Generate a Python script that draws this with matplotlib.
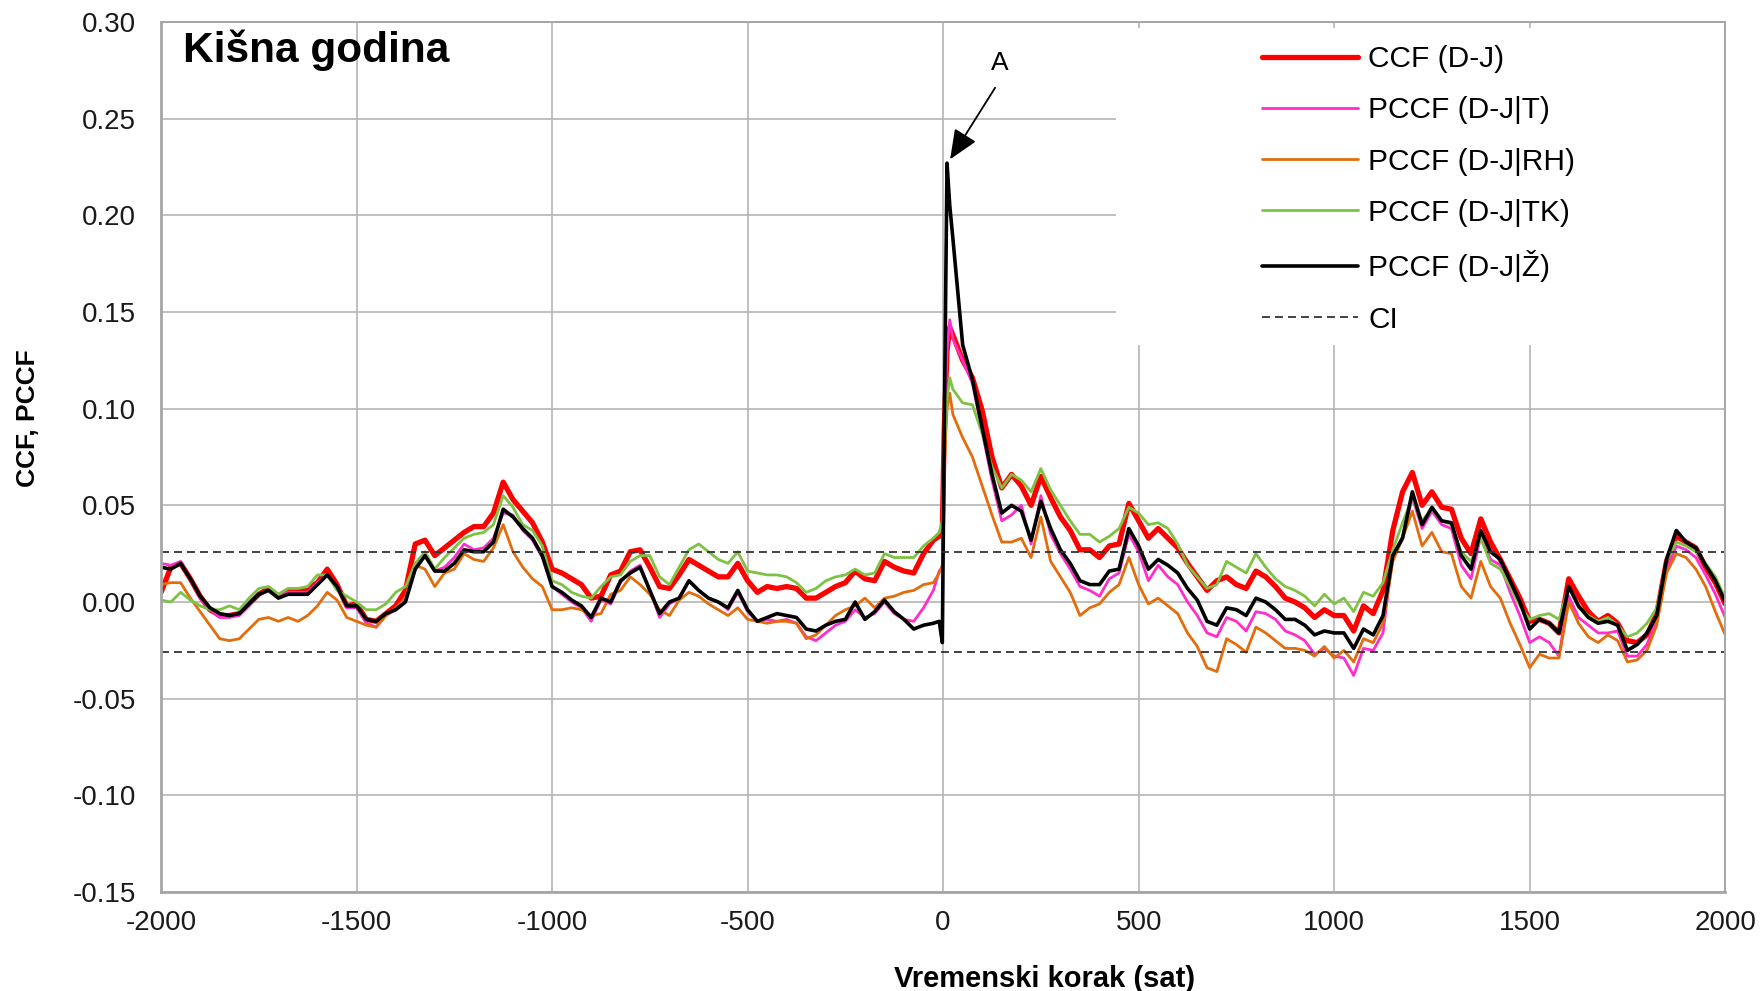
import matplotlib
matplotlib.use("Agg")
import numpy as np
import matplotlib.pyplot as plt
from matplotlib.patches import Rectangle
from matplotlib.ticker import FormatStrFormatter

plt.rcParams['font.family'] = ['Liberation Sans', 'DejaVu Sans']
plt.rcParams['axes.unicode_minus'] = False

# lag axis (hours): 25 h steps, a few extra points around the jump at 0
lags = list(range(-2000, 0, 25)) + [-10, -2, 3, 10, 17] + list(range(25, 2001, 25))

# CCF (D-J)
ccf_dj = [
    0.005, 0.018, 0.020, 0.012, 0.003, -0.004, -0.007, -0.007, -0.006, -0.001,
    0.004, 0.007, 0.003, 0.006, 0.006, 0.007, 0.010, 0.017, 0.009, -0.002,
    -0.001, -0.009, -0.010, -0.006, -0.002, 0.006, 0.030, 0.032, 0.024, 0.028,
    0.032, 0.036, 0.039, 0.039, 0.046, 0.062, 0.053, 0.047, 0.041, 0.031,
    0.017, 0.015, 0.012, 0.009, 0.002, 0.003, 0.014, 0.016, 0.026, 0.027,
    0.018, 0.008, 0.007, 0.014, 0.022, 0.019, 0.016, 0.013, 0.013, 0.020,
    0.011, 0.005, 0.008, 0.007, 0.008, 0.007, 0.002, 0.002, 0.005, 0.008,
    0.010, 0.016, 0.012, 0.011, 0.021, 0.018, 0.016, 0.015, 0.025, 0.032,
    0.034, 0.038, 0.090, 0.130, 0.142,
    0.138, 0.125, 0.116, 0.099, 0.075, 0.059, 0.066, 0.060, 0.050, 0.065,
    0.054, 0.044, 0.037, 0.027, 0.027, 0.023, 0.029, 0.030, 0.051, 0.042,
    0.033, 0.038, 0.033, 0.028, 0.020, 0.013, 0.006, 0.011, 0.013, 0.009,
    0.007, 0.016, 0.013, 0.008, 0.002, 0.000, -0.003, -0.008, -0.004, -0.007,
    -0.007, -0.015, -0.002, -0.006, 0.006, 0.037, 0.057, 0.067, 0.050, 0.057,
    0.049, 0.048, 0.033, 0.025, 0.043, 0.031, 0.022, 0.012, 0.002, -0.010,
    -0.009, -0.011, -0.016, 0.012, 0.003, -0.005, -0.010, -0.007, -0.011, -0.020,
    -0.021, -0.017, -0.006, 0.021, 0.034, 0.031, 0.028, 0.018, 0.010, -0.001,
]

# PCCF (D-J|T)
pccf_t = [
    0.020, 0.019, 0.021, 0.012, 0.002, -0.004, -0.008, -0.008, -0.007, -0.002,
    0.004, 0.006, 0.003, 0.005, 0.005, 0.005, 0.010, 0.014, 0.008, -0.003,
    -0.003, -0.011, -0.013, -0.007, -0.004, 0.001, 0.018, 0.024, 0.016, 0.018,
    0.023, 0.030, 0.027, 0.028, 0.033, 0.046, 0.045, 0.037, 0.032, 0.023,
    0.008, 0.004, 0.000, -0.003, -0.010, 0.001, -0.001, 0.010, 0.016, 0.019,
    0.006, -0.008, -0.001, 0.002, 0.011, 0.006, 0.002, 0.000, -0.004, 0.005,
    -0.005, -0.010, -0.009, -0.010, -0.009, -0.011, -0.018, -0.020, -0.016, -0.012,
    -0.010, -0.004, -0.008, -0.006, 0.000, -0.006, -0.009, -0.010, -0.003, 0.006,
    0.016, 0.018, 0.080, 0.130, 0.146,
    0.136, 0.125, 0.113, 0.088, 0.063, 0.042, 0.045, 0.050, 0.030, 0.055,
    0.035, 0.025, 0.017, 0.008, 0.006, 0.003, 0.012, 0.015, 0.035, 0.026,
    0.011, 0.019, 0.013, 0.009, 0.000, -0.007, -0.016, -0.018, -0.008, -0.010,
    -0.015, -0.005, -0.006, -0.009, -0.015, -0.017, -0.020, -0.027, -0.024, -0.028,
    -0.029, -0.038, -0.024, -0.025, -0.016, 0.024, 0.034, 0.054, 0.038, 0.047,
    0.040, 0.038, 0.019, 0.012, 0.034, 0.022, 0.019, 0.005, -0.007, -0.021,
    -0.018, -0.021, -0.028, 0.003, -0.008, -0.012, -0.016, -0.016, -0.015, -0.028,
    -0.028, -0.022, -0.010, 0.016, 0.029, 0.027, 0.023, 0.014, 0.004, -0.008,
]

# PCCF (D-J|RH)
pccf_rh = [
    0.009, 0.010, 0.010, 0.002, -0.005, -0.012, -0.019, -0.020, -0.019, -0.014,
    -0.009, -0.008, -0.010, -0.008, -0.010, -0.007, -0.002, 0.005, 0.001, -0.008,
    -0.010, -0.012, -0.013, -0.007, -0.003, 0.002, 0.019, 0.017, 0.008, 0.015,
    0.017, 0.025, 0.022, 0.021, 0.028, 0.040, 0.026, 0.018, 0.012, 0.008,
    -0.004, -0.004, -0.003, -0.004, -0.007, -0.006, 0.004, 0.006, 0.013, 0.009,
    0.004, -0.004, -0.007, 0.001, 0.005, 0.003, -0.001, -0.004, -0.007, -0.003,
    -0.009, -0.010, -0.011, -0.010, -0.010, -0.011, -0.019, -0.017, -0.012, -0.007,
    -0.004, -0.002, 0.002, -0.003, 0.002, 0.003, 0.005, 0.006, 0.009, 0.010,
    0.015, 0.019, 0.070, 0.100, 0.108,
    0.097, 0.085, 0.075, 0.060, 0.045, 0.031, 0.031, 0.033, 0.023, 0.044,
    0.021, 0.013, 0.005, -0.007, -0.003, -0.001, 0.005, 0.009, 0.023, 0.009,
    -0.001, 0.002, -0.002, -0.006, -0.016, -0.023, -0.034, -0.036, -0.019, -0.022,
    -0.026, -0.013, -0.016, -0.020, -0.024, -0.024, -0.025, -0.028, -0.023, -0.029,
    -0.025, -0.031, -0.019, -0.021, -0.011, 0.021, 0.033, 0.047, 0.029, 0.036,
    0.026, 0.025, 0.008, 0.002, 0.021, 0.008, 0.002, -0.011, -0.022, -0.034,
    -0.027, -0.029, -0.029, 0.000, -0.011, -0.018, -0.021, -0.017, -0.020, -0.031,
    -0.030, -0.025, -0.012, 0.015, 0.025, 0.023, 0.017, 0.008, -0.005, -0.017,
]

# PCCF (D-J|TK)
pccf_tk = [
    0.001, 0.000, 0.005, 0.001, -0.002, -0.004, -0.004, -0.002, -0.004, 0.002,
    0.007, 0.008, 0.004, 0.007, 0.007, 0.008, 0.014, 0.014, 0.006, 0.003,
    0.000, -0.004, -0.004, -0.001, 0.005, 0.008, 0.020, 0.026, 0.017, 0.023,
    0.028, 0.033, 0.035, 0.036, 0.040, 0.055, 0.049, 0.040, 0.037, 0.029,
    0.011, 0.009, 0.005, 0.003, 0.002, 0.008, 0.013, 0.014, 0.021, 0.024,
    0.024, 0.013, 0.009, 0.018, 0.027, 0.030, 0.026, 0.022, 0.020, 0.026,
    0.016, 0.015, 0.014, 0.014, 0.013, 0.010, 0.005, 0.007, 0.011, 0.013,
    0.014, 0.017, 0.014, 0.015, 0.025, 0.023, 0.023, 0.023, 0.029, 0.033,
    0.036, 0.042, 0.080, 0.105, 0.116,
    0.110, 0.103, 0.102, 0.087, 0.070, 0.059, 0.066, 0.063, 0.057, 0.069,
    0.058, 0.050, 0.042, 0.035, 0.035, 0.031, 0.034, 0.038, 0.049, 0.046,
    0.040, 0.041, 0.038, 0.030, 0.019, 0.013, 0.007, 0.009, 0.021, 0.018,
    0.015, 0.025, 0.018, 0.012, 0.008, 0.006, 0.003, -0.002, 0.004, -0.001,
    0.002, -0.005, 0.005, 0.003, 0.010, 0.027, 0.041, 0.054, 0.042, 0.048,
    0.042, 0.040, 0.026, 0.021, 0.033, 0.020, 0.017, 0.008, -0.002, -0.009,
    -0.007, -0.006, -0.009, 0.008, -0.003, -0.007, -0.010, -0.008, -0.012, -0.018,
    -0.016, -0.011, -0.003, 0.021, 0.031, 0.029, 0.026, 0.020, 0.013, 0.002,
]

# PCCF (D-J|Ž)
pccf_z = [
    0.018, 0.017, 0.020, 0.012, 0.003, -0.003, -0.006, -0.007, -0.006, -0.001,
    0.004, 0.006, 0.002, 0.004, 0.004, 0.004, 0.009, 0.014, 0.008, -0.002,
    -0.002, -0.009, -0.010, -0.006, -0.004, 0.000, 0.017, 0.024, 0.016, 0.016,
    0.020, 0.027, 0.026, 0.026, 0.031, 0.048, 0.044, 0.038, 0.033, 0.024,
    0.008, 0.005, 0.001, -0.002, -0.008, 0.002, 0.000, 0.011, 0.015, 0.018,
    0.006, -0.006, 0.000, 0.002, 0.011, 0.006, 0.002, 0.000, -0.003, 0.006,
    -0.004, -0.010, -0.008, -0.006, -0.007, -0.008, -0.014, -0.015, -0.012, -0.010,
    -0.009, 0.000, -0.009, -0.005, 0.001, -0.005, -0.009, -0.014, -0.012, -0.011,
    -0.010, -0.021, 0.090, 0.227, 0.205,
    0.188, 0.133, 0.115, 0.090, 0.066, 0.046, 0.050, 0.047, 0.032, 0.052,
    0.038, 0.027, 0.020, 0.011, 0.009, 0.009, 0.016, 0.017, 0.038, 0.029,
    0.017, 0.022, 0.019, 0.015, 0.007, 0.001, -0.010, -0.012, -0.003, -0.004,
    -0.007, 0.002, 0.000, -0.004, -0.009, -0.009, -0.012, -0.017, -0.015, -0.016,
    -0.016, -0.024, -0.014, -0.017, -0.007, 0.024, 0.033, 0.057, 0.040, 0.049,
    0.042, 0.041, 0.024, 0.017, 0.037, 0.026, 0.022, 0.011, 0.000, -0.014,
    -0.009, -0.011, -0.016, 0.008, -0.002, -0.008, -0.011, -0.010, -0.012, -0.025,
    -0.022, -0.016, -0.007, 0.022, 0.037, 0.031, 0.028, 0.019, 0.011, 0.000,
]

ci = 0.026

fig = plt.figure(figsize=(17.62, 9.91), dpi=100)
ax = fig.add_axes([0.0914, 0.0999, 0.8877, 0.8779])

ax.set_xlim(-2000, 2000)
ax.set_ylim(-0.15, 0.30)
ax.set_xticks(np.arange(-2000, 2001, 500))
ax.set_yticks(np.arange(-0.15, 0.301, 0.05))
ax.yaxis.set_major_formatter(FormatStrFormatter('%.2f'))
ax.grid(True, color='#b5b5b5', lw=1.2)
ax.set_axisbelow(True)
ax.tick_params(axis='both', length=0, labelsize=20, colors='#1a1a1a')
ax.tick_params(axis='x', pad=13)
ax.tick_params(axis='y', pad=18)
for s in ax.spines.values():
    s.set_color('#a6a6a6')
    s.set_linewidth(1.4)
ax.spines['left'].set_linewidth(2)
ax.spines['bottom'].set_linewidth(2)

# white area behind the legend hides the grid
ax.add_patch(Rectangle((442, 0.133), 1558, 0.164, facecolor='white',
                       edgecolor='none', zorder=1))

kw = dict(zorder=2, solid_joinstyle='round', solid_capstyle='round')
ax.plot(lags, ccf_dj, color='#ff0000', lw=3.8, label='CCF (D-J)', **kw)
ax.plot(lags, pccf_t, color='#ff2dcc', lw=2.0, label='PCCF (D-J|T)', **kw)
ax.plot(lags, pccf_rh, color='#e46c0a', lw=2.0, label='PCCF (D-J|RH)', **kw)
ax.plot(lags, pccf_tk, color='#7dc242', lw=2.0, label='PCCF (D-J|TK)', **kw)
ax.plot(lags, pccf_z, color='black', lw=2.6, label='PCCF (D-J|Ž)', **kw)
ax.axhline(ci, color='#333333', lw=1.3, dashes=(4.4, 2.8), label='CI', zorder=2)
ax.axhline(-ci, color='#333333', lw=1.3, dashes=(4.4, 2.8), zorder=2)

# peak marker
ax.annotate('', xy=(18, 0.229), xytext=(133, 0.266),
            arrowprops=dict(arrowstyle='-|>,head_length=0.7,head_width=0.3',
                            color='black', lw=1.3, mutation_scale=26,
                            shrinkA=0, shrinkB=0))
ax.text(146, 0.279, 'A', fontsize=19, ha='center', va='center')

ax.text(0.014, 0.967, 'Kišna godina', transform=ax.transAxes, fontsize=30.5,
        fontweight='bold', ha='left', va='center')

ax.set_xlabel('Vremenski korak (sat)', fontsize=21, fontweight='bold')
ax.xaxis.set_label_coords(0.565, -0.084)
ax.set_ylabel('CCF, PCCF', fontsize=19, fontweight='bold', va='center')
ax.yaxis.set_label_coords(-0.085, 0.545)

ax.legend(loc='upper left', bbox_to_anchor=(0.704, 0.9735), frameon=False,
          fontsize=21.5, handlelength=3.2, handletextpad=0.35, labelspacing=0.78,
          borderpad=0, borderaxespad=0)

fig.savefig('out.png', dpi=100)
